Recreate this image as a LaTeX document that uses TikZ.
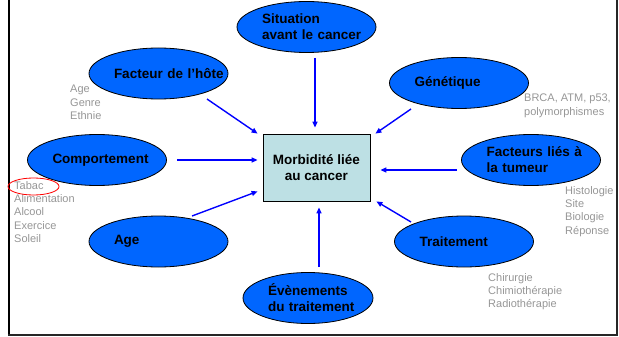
\documentclass[tikz,border=0pt]{standalone}
\usepackage{fontspec}
\setmainfont{Liberation Sans}
\usetikzlibrary{arrows.meta,shapes.geometric}
\definecolor{ellblue}{RGB}{0,102,255}
\definecolor{boxfill}{RGB}{189,224,228}
\definecolor{txtgray}{RGB}{150,150,150}
\definecolor{arrblue}{RGB}{0,0,255}
\hfuzz=200pt
\begin{document}
\begin{tikzpicture}[x=1pt,y=-1pt,
  ell/.style={ellipse, draw=black, line width=0.8pt, fill=ellblue,
    minimum width=139pt, minimum height=51pt, inner sep=0pt,
    text width=89pt, align=left,
    font=\bfseries\fontsize{13.5}{16}\selectfont},
  gtxt/.style={anchor=north west, inner sep=0pt, align=left, text=txtgray,
    font=\fontsize{11}{13.3}\selectfont},
  arr/.style={draw=arrblue, line width=1.4pt, -{Triangle[length=6pt,width=5pt]}}]
\useasboundingbox (0,0) rectangle (619,337);
% frame
\draw[line width=2pt, black] (9,0) -- (9,335);
\draw[line width=1.6pt, black!85] (8,335) -- (617,335) -- (617,0);
% central box
\node[draw=black, line width=0.8pt, fill=boxfill, minimum width=107pt,
  minimum height=67pt, inner sep=0pt, align=center,
  font=\bfseries\fontsize{13.5}{16}\selectfont] (box) at (316.5,167.5)
  {Morbidité liée\\au cancer};
% ellipses
\node[ell] (sit) at (306.5,27) {\mbox{Situation}\\\mbox{avant le cancer}};
\node[ell] (hote) at (158.5,73.5) {\mbox{Facteur de l’hôte}};
\node[ell] (gen) at (459,83) {Génétique};
\node[ell] (comp) at (97,160) {Comportement};
\node[ell] (tum) at (531,160) {\mbox{Facteurs liés à}\\\mbox{la tumeur}};
\node[ell] (age) at (158.5,241.5) {Age};
\node[ell] (trait) at (464,241.5) {Traitement};
\node[ell, minimum width=130pt, text width=80pt] (evt) at (308,298)
  {\mbox{Évènements}\\\mbox{du traitement}};
% gray texts
\node[gtxt] (thote) at (70,85) {Age\\Genre\\Ethnie};
\node[gtxt] (tcomp) at (14,181) {Tabac\\Alimentation\\Alcool\\Exercice\\Soleil};
\node[gtxt] (tgen) at (524,94) {BRCA, ATM, p53,\\polymorphismes};
\node[gtxt] (ttum) at (565,186) {Histologie\\Site\\Biologie\\Réponse};
\node[gtxt] (ttrait) at (488,273) {Chirurgie\\Chimiothérapie\\Radiothérapie};
\node[draw=red, line width=0.8pt, ellipse, minimum width=51pt,
  minimum height=17pt, inner sep=0pt] (tabring) at (33.5,186.5) {};
% arrows
\coordinate (sitA) at (315,58);
\coordinate (hoteA) at (207,99);
\coordinate (compA) at (177,160);
\coordinate (genA) at (411,109);
\coordinate (tumA) at (457,170);
\coordinate (ageA) at (192,216);
\coordinate (traitA) at (411,222);
\coordinate (evtA) at (319,267);
\draw[arr] (sitA) -- ([xshift=-1.5pt,yshift=6pt]box.north);
\draw[arr] (hoteA) -- ([xshift=-5pt]box.north west);
\draw[arr] (compA) -- ([xshift=-5pt,yshift=7.5pt]box.west);
\draw[arr] (genA) -- ([xshift=5pt]box.north east);
\draw[arr] (tumA) -- ([xshift=10pt,yshift=-2.5pt]box.east);
\draw[arr] (ageA) -- ([xshift=-5pt,yshift=10pt]box.south west);
\draw[arr] (traitA) -- ([xshift=6pt]box.south east);
\draw[arr] (evtA) -- ([xshift=2.5pt,yshift=-6pt]box.south);
\end{tikzpicture}
\end{document}
